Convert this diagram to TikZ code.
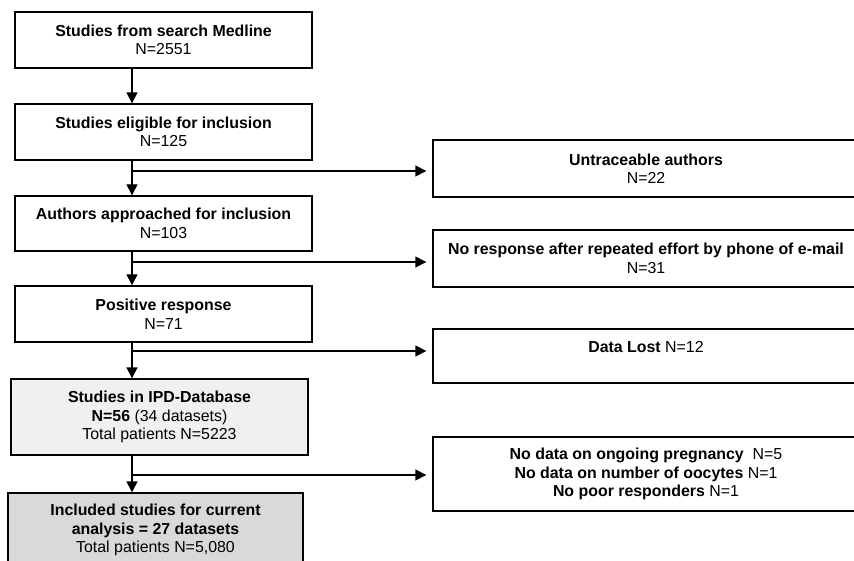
\documentclass[tikz,border=0pt]{standalone}
\usepackage{fontspec}
\setmainfont{Liberation Sans}
\usetikzlibrary{arrows.meta}
\colorlet{dbC}{black!6}
\colorlet{incC}{black!15}
\tikzstyle{stb}=[draw, line width=1.4pt, shape=rectangle, minimum width=297pt, minimum height=56pt, inner sep=0pt, align=center, font=\fontsize{15.9}{18.5}\selectfont]
\tikzstyle{exb}=[stb, minimum width=426pt, minimum height=57pt]
\tikzstyle{farrow}=[line width=1.4pt, -{Triangle[length=11pt,width=11pt]}, color=black]
\def\stb{\node[style=stb]}
\def\exb{\node[style=exb]}
\def\farrow{\draw[style=farrow]}

\begin{document}
\begin{tikzpicture}[x=1pt, y=-1pt]
      \useasboundingbox (0,0) rectangle (854,561);
      \clip (0,0) rectangle (854,561);
      % main column
      \stb (Snode1) at (163.5,40)  {{\bf Studies from search Medline}\\N=2551};
      \stb (Snode2) at (163.5,132) {{\bf Studies eligible for inclusion}\\N=125};
      \stb (Snode3) at (163.5,223.5) [minimum height=55pt] {{\bf Authors approached for inclusion}\\N=103};
      \stb (Snode4) at (163.5,314) {{\bf Positive response}\\N=71};
      \stb (Snode5) at (159.5,417) [fill=dbC, minimum height=76pt] {{\bf Studies in IPD-Database}\\{\bf N=56} (34 datasets)\\Total patients N=5223};
      \stb (Snode6) at (155.5,530) [fill=incC, minimum width=295pt, minimum height=74pt] {{\bf Included studies for current}\\{\bf analysis = 27 datasets}\\Total patients N=5,080};

      \coordinate (axis) at (132,0);
      \farrow (Snode1.south -| axis) -- (Snode2.north -| axis);
      \farrow (Snode2.south -| axis) -- (Snode3.north -| axis);
      \farrow (Snode3.south -| axis) -- (Snode4.north -| axis);
      \farrow (Snode4.south -| axis) -- (Snode5.north -| axis);
      \farrow (Snode5.south -| axis) -- (Snode6.north -| axis);
      % excluded
      \exb (Enode1) at (646,168.5) {{\bf Untraceable authors}\\N=22};
      \exb (Enode2) at (646,258.5) {{\bf No response after repeated effort by phone of e-mail}\\N=31};
      \exb (Enode3) at (646,356) [minimum height=54pt] {{\bf Data Lost} N=12\\\mbox{}};
      \exb (Enode4) at (646,474) [minimum height=74pt] {{\bf No data on ongoing pregnancy}\ \ N=5\\{\bf No data on number of oocytes} N=1\\{\bf No poor responders} N=1};

      \coordinate (Jnode1) at (132,171);
      \coordinate (Jnode2) at (132,262);
      \coordinate (Jnode3) at (132,351);
      \coordinate (Jnode4) at (132,475);
      \farrow [shorten >=6pt] (Jnode1) -- (Jnode1 -| Enode1.west);
      \farrow [shorten >=6pt] (Jnode2) -- (Jnode2 -| Enode2.west);
      \farrow [shorten >=6pt] (Jnode3) -- (Jnode3 -| Enode3.west);
      \farrow [shorten >=6pt] (Jnode4) -- (Jnode4 -| Enode4.west);

\end{tikzpicture}
\end{document}
